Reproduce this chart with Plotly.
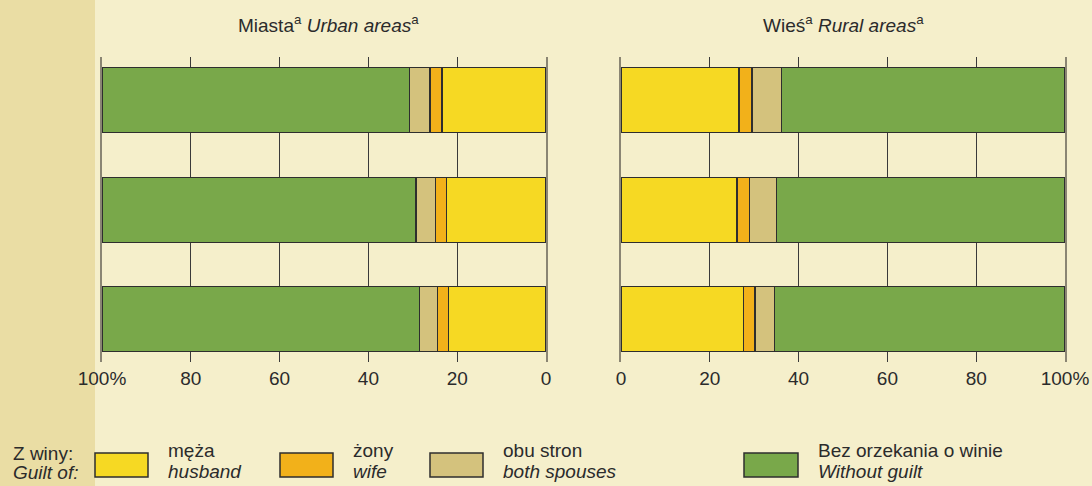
import plotly.graph_objects as go

years = ["1995", "2000", "2005"]
series_pl = ["męża", "żony", "obu stron", "Bez orzekania o winie"]
series_en = ["husband", "wife", "both spouses", "Without guilt"]
colors = ["#F6D923", "#F2B11A", "#D4C27D", "#79A84A"]

urban_husband = [23.4, 22.4, 22.0]
urban_wife = [2.7, 2.5, 2.4]
urban_both = [4.6, 4.4, 4.1]
urban_none = [69.3, 70.7, 71.5]

rural_husband = [26.6, 26.1, 27.6]
rural_wife = [2.9, 2.9, 2.6]
rural_both = [6.6, 6.1, 4.4]
rural_none = [63.9, 64.9, 65.4]

urban = [urban_husband, urban_wife, urban_both, urban_none]
rural = [rural_husband, rural_wife, rural_both, rural_none]

tick_vals = [0, 20, 40, 60, 80, 100]
tick_text = ["0", "20", "40", "60", "80", "100%"]

W, H = 1092, 486
FONT = "Liberation Sans, Arial, sans-serif"
TXT = "#2b2b2b"
BG = "#F5EFCB"
STRIP = "#EADDA4"

fig = go.Figure()
for i in range(4):
    fig.add_trace(go.Bar(y=years, x=urban[i], orientation="h", name=series_pl[i],
                         marker=dict(color=colors[i], line=dict(color="#2e2e2e", width=1.3)),
                         xaxis="x", yaxis="y", showlegend=False))
    fig.add_trace(go.Bar(y=years, x=rural[i], orientation="h", name=series_pl[i],
                         marker=dict(color=colors[i], line=dict(color="#2e2e2e", width=1.3)),
                         xaxis="x2", yaxis="y2", showlegend=False))

def px(x):
    return x / W

def py(y):
    return 1 - y / H

ydom = [py(362), py(57)]
yr = [-0.39, 2.395]
cat = ["2005", "2000", "1995"]
common_x = dict(tickvals=tick_vals, ticktext=tick_text, showgrid=True, gridcolor="#3a3a3a",
                gridwidth=1.3, zeroline=False, showline=False, ticks="", automargin=False,
                ticklabelstandoff=3,
                tickfont=dict(family=FONT, size=19, color=TXT), fixedrange=True)
common_y = dict(categoryorder="array", categoryarray=cat, range=yr, domain=ydom,
                showticklabels=False, showgrid=False, zeroline=False, ticks="", automargin=False,
                showline=True, mirror=True, linecolor="#8a8573", linewidth=1.5, fixedrange=True)

fig.update_layout(
    width=W, height=H, autosize=False,
    margin=dict(l=0, r=0, t=0, b=0, pad=0, autoexpand=False),
    paper_bgcolor=BG, plot_bgcolor=BG,
    barmode="stack", bargap=0.406,
    xaxis=dict(domain=[px(102), px(546)], range=[100, 0], anchor="y", **common_x),
    yaxis=dict(anchor="x", **common_y),
    xaxis2=dict(domain=[px(621), px(1065)], range=[0, 100], anchor="y2", **common_x),
    yaxis2=dict(anchor="x2", **common_y),
    font=dict(family=FONT, size=19, color=TXT),
)

shapes = [dict(type="rect", xref="paper", yref="paper", x0=0, x1=px(95), y0=0, y1=1,
               fillcolor=STRIP, line=dict(width=0), layer="below")]
annotations = []

# titles
annotations.append(dict(xref="paper", yref="paper", x=px(328), y=py(24), xanchor="center", yanchor="middle",
                        text="Miasta<sup>a</sup> <i>Urban areas</i><sup>a</sup>", showarrow=False,
                        font=dict(family=FONT, size=19, color=TXT)))
annotations.append(dict(xref="paper", yref="paper", x=px(843), y=py(24), xanchor="center", yanchor="middle",
                        text="Wieś<sup>a</sup> <i>Rural areas</i><sup>a</sup>", showarrow=False,
                        font=dict(family=FONT, size=19, color=TXT)))

# year labels
for yv in years:
    annotations.append(dict(xref="paper", yref="y", x=px(582), y=yv, xanchor="center", yanchor="middle",
                            text=yv, showarrow=False, font=dict(family=FONT, size=19, color=TXT)))

# legend
annotations.append(dict(xref="paper", yref="paper", x=px(11), y=py(453), xanchor="left", yanchor="middle",
                        text="Z winy:", showarrow=False, font=dict(family=FONT, size=19, color=TXT)))
annotations.append(dict(xref="paper", yref="paper", x=px(11), y=py(472), xanchor="left", yanchor="middle",
                        text="<i>Guilt of:</i>", showarrow=False, font=dict(family=FONT, size=19, color=TXT)))
box_x = [95, 280, 430, 744]
box_w = [53, 53, 53, 54]
for i in range(4):
    shapes.append(dict(type="rect", xref="paper", yref="paper", x0=px(box_x[i]), x1=px(box_x[i] + box_w[i]),
                       y0=py(477), y1=py(453), fillcolor=colors[i],
                       line=dict(color="#2e2e2e", width=1.5)))
    tx = box_x[i] + box_w[i] + 18
    annotations.append(dict(xref="paper", yref="paper", x=px(tx), y=py(450), xanchor="left", yanchor="middle",
                            text=series_pl[i], showarrow=False, font=dict(family=FONT, size=19, color=TXT)))
    annotations.append(dict(xref="paper", yref="paper", x=px(tx), y=py(471), xanchor="left", yanchor="middle",
                            text="<i>" + series_en[i] + "</i>", showarrow=False,
                            font=dict(family=FONT, size=19, color=TXT)))

fig.update_layout(shapes=shapes, annotations=annotations)
fig.write_html("out.html", config={"displayModeBar": False},
               post_script="document.body.style.margin='0px';document.body.style.padding='0px';document.body.style.overflow='hidden';")
